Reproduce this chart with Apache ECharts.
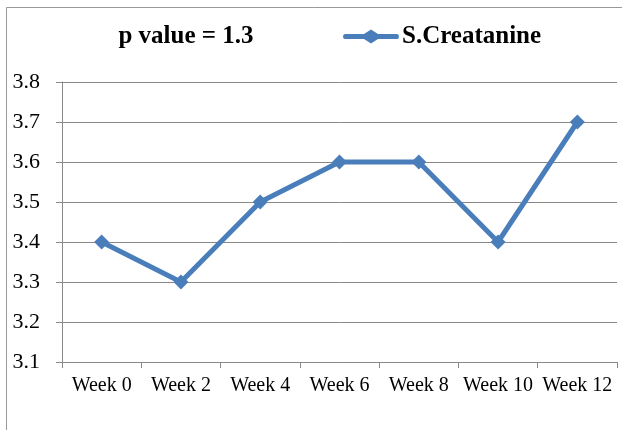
<!DOCTYPE html>
<html><head><meta charset="utf-8">
<script src="https://cdn.jsdelivr.net/npm/echarts@6/dist/echarts.min.js"></script>
<style>html,body{margin:0;padding:0;background:#fff}#c{width:622px;height:430px}</style>
</head><body><div id="c"></div>
<script>
const categories = ['Week 0','Week 2','Week 4','Week 6','Week 8','Week 10','Week 12'];
const creatinine = [3.4, 3.3, 3.5, 3.6, 3.6, 3.4, 3.7];
const seriesName = 'S.Creatanine';
const titleText = 'p value = 1.3';

const chart = echarts.init(document.getElementById('c'));
const font = '"Liberation Serif", "Times New Roman", serif';
chart.setOption({
  animation: false,
  graphic: [
    {type:'line', shape:{x1:6.5,y1:7.5,x2:622,y2:7.5}, style:{stroke:'#999',lineWidth:1}},
    {type:'line', shape:{x1:6.5,y1:7.5,x2:6.5,y2:430}, style:{stroke:'#999',lineWidth:1}}
  ],
  title: {text: titleText, left: 186, top: 24, textAlign:'center', padding:0,
    textStyle:{fontFamily:font, fontWeight:'bold', fontSize:25, color:'#000'}},
  legend: {left: 343, top: 24, itemWidth: 56, itemHeight: 14, itemGap: 0, padding:0,
    textStyle:{fontFamily:font, fontWeight:'bold', fontSize:25, color:'#000', padding:[0,0,0,-2]},
    data:[{name: seriesName,
      icon:'path://M2,4.5 L21,4.5 L28,0 L35,4.5 L54,4.5 Q56,4.5 56,7 Q56,9.5 54,9.5 L35,9.5 L28,14 L21,9.5 L2,9.5 Q0,9.5 0,7 Q0,4.5 2,4.5 Z'}]},
  grid: {left: 62, right: 5, top: 82, bottom: 68},
  xAxis: {type:'category', data: categories, boundaryGap: true,
    axisLine:{lineStyle:{color:'#888', width:1}},
    axisTick:{show:true, length:6, lineStyle:{color:'#888'}},
    axisLabel:{fontFamily:font, fontSize:20, color:'#000', margin:14, interval:0}},
  yAxis: {type:'value', min:3.1, max:3.8, interval:0.1,
    axisLine:{show:true, lineStyle:{color:'#888', width:1}},
    axisTick:{show:true, length:6, lineStyle:{color:'#888'}},
    splitLine:{lineStyle:{color:'#888', width:1}},
    axisLabel:{fontFamily:font, fontSize:22, color:'#000', margin:22,
      formatter: v => v.toFixed(1)}},
  series: [{name: seriesName, type:'line', data: creatinine,
    symbol:'diamond', symbolSize:15,
    lineStyle:{color:'#4a7ebb', width:5},
    itemStyle:{color:'#4a7ebb'}}]
});
</script></body></html>
